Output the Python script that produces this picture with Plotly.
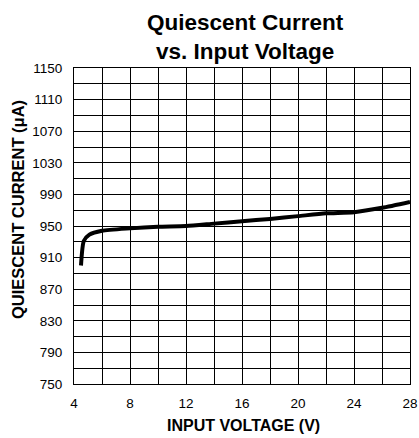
import plotly.graph_objects as go

# Data
input_voltage = [4.5, 4.7, 5.1, 6, 8, 10, 12, 14, 16, 18, 20, 22, 24, 26, 28]
quiescent_current = [900, 931, 939, 944, 947, 949, 950, 953, 956, 959, 962.5, 966, 967.5, 973, 980.5]

x_tick_vals = [4, 8, 12, 16, 20, 24, 28]
y_tick_vals = [750, 790, 830, 870, 910, 950, 990, 1030, 1070, 1110, 1150]

FONT = "Liberation Sans, Arial, sans-serif"
W, H = 419, 438
L, R, T, B = 74, 9, 68, 54
plot_w = W - L - R
plot_h = H - T - B


def px_x(x):
    return (x - L) / plot_w


def px_y(y):
    return (H - B - y) / plot_h


fig = go.Figure()
fig.add_trace(go.Scatter(
    x=input_voltage, y=quiescent_current, mode="lines",
    line=dict(color="black", width=4, shape="spline", smoothing=0.6),
    showlegend=False, hoverinfo="skip",
))

fig.update_layout(
    width=W, height=H, autosize=False,
    margin=dict(l=L, r=R, t=T, b=B, pad=0, autoexpand=False),
    paper_bgcolor="white", plot_bgcolor="white",
    font=dict(family=FONT, color="black", size=12),
    annotations=[
        dict(text="<b>Quiescent Current</b>", x=px_x(245), y=px_y(23), xref="paper", yref="paper",
             xanchor="center", yanchor="middle", showarrow=False,
             font=dict(family=FONT, size=22.5, color="black")),
        dict(text="<b>vs. Input Voltage</b>", x=px_x(245), y=px_y(52), xref="paper", yref="paper",
             xanchor="center", yanchor="middle", showarrow=False,
             font=dict(family=FONT, size=22.5, color="black")),
        dict(text="<b>INPUT VOLTAGE (V)</b>", x=px_x(243), y=px_y(425), xref="paper", yref="paper",
             xanchor="center", yanchor="middle", showarrow=False,
             font=dict(family=FONT, size=16, color="black")),
        dict(text="<b>QUIESCENT CURRENT (μA)</b>", x=px_x(18), y=px_y(210), xref="paper", yref="paper",
             xanchor="center", yanchor="middle", showarrow=False, textangle=-90,
             font=dict(family=FONT, size=16.5, color="black")),
    ],
)

fig.update_xaxes(
    range=[4, 28], tickvals=x_tick_vals, ticktext=[str(v) for v in x_tick_vals],
    showgrid=True, gridcolor="black", gridwidth=1,
    minor=dict(dtick=2, tick0=4, showgrid=True, gridcolor="black", gridwidth=1),
    showline=True, linecolor="black", linewidth=1, mirror=True,
    ticks="", zeroline=False, tickfont=dict(size=13.5, family=FONT),
    ticklabelstandoff=7, automargin=False,
)
fig.update_yaxes(
    range=[750, 1150], tickvals=y_tick_vals, ticktext=[str(v) for v in y_tick_vals],
    showgrid=True, gridcolor="black", gridwidth=1,
    minor=dict(dtick=20, tick0=750, showgrid=True, gridcolor="black", gridwidth=1),
    showline=True, linecolor="black", linewidth=1, mirror=True,
    ticks="", zeroline=False, tickfont=dict(size=13.5, family=FONT),
    ticklabelstandoff=8, automargin=False,
)

fig.write_html("out.html", config={"displayModeBar": False},
               post_script="document.body.style.margin='0';")
